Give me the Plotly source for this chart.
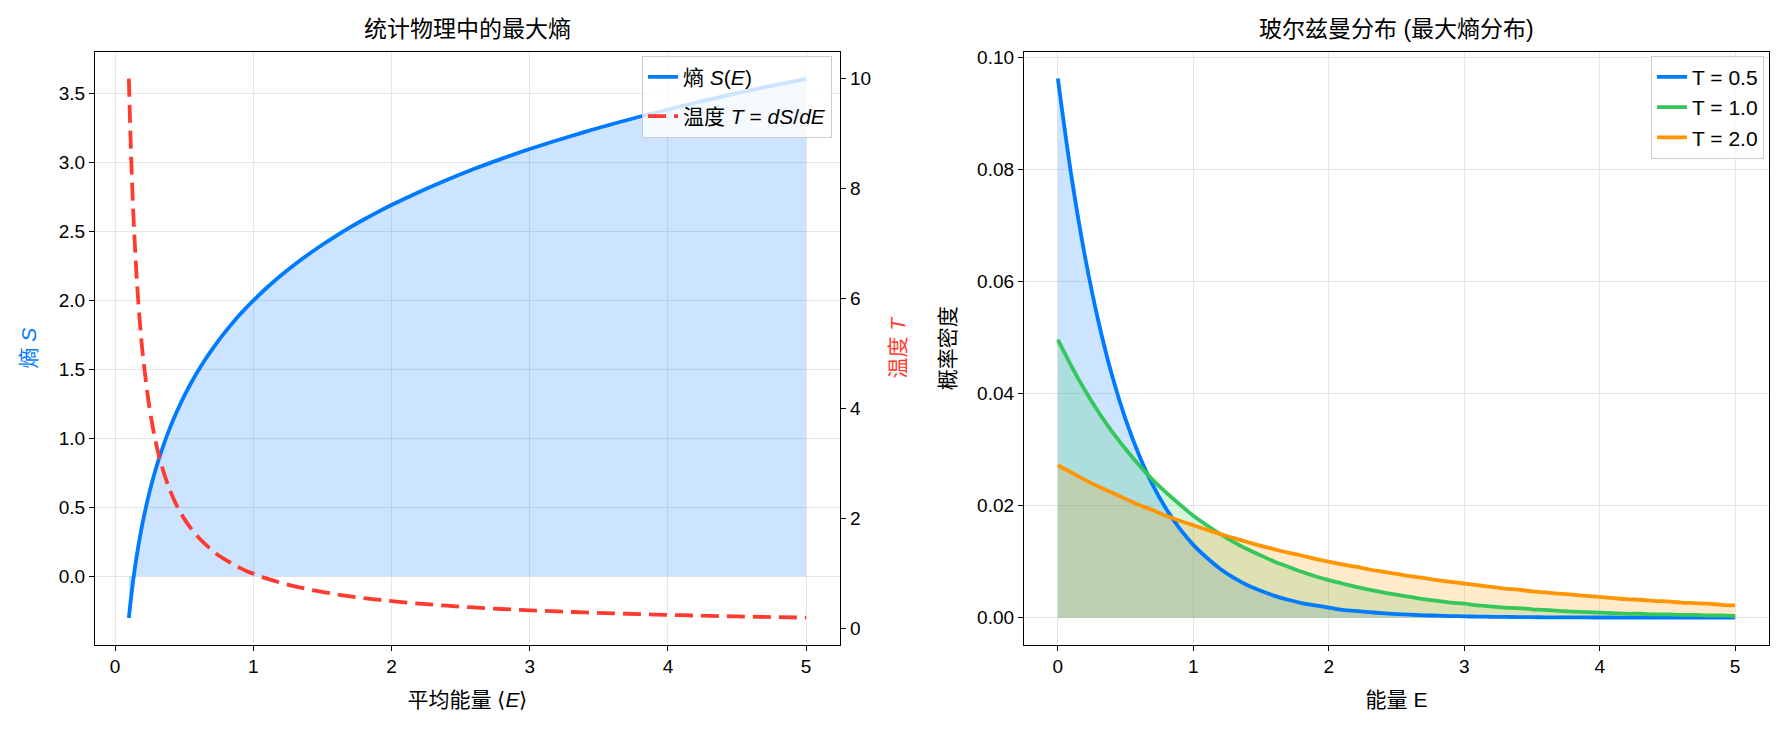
import plotly.graph_objects as go

# ---------- data: left panel ----------
mean_energy = [0.10, 0.11, 0.12, 0.13, 0.14, 0.15, 0.16, 0.17, 0.18, 0.19, 0.20,
               0.25, 0.30, 0.35, 0.40, 0.45, 0.50, 0.55, 0.60, 0.65, 0.70, 0.75, 0.80, 0.85, 0.90, 0.95, 1.00,
               1.1, 1.2, 1.3, 1.4, 1.5, 1.6, 1.7, 1.8, 1.9, 2.0,
               2.2, 2.4, 2.6, 2.8, 3.0, 3.2, 3.4, 3.6, 3.8, 4.0, 4.2, 4.4, 4.6, 4.8, 5.0]
entropy_S = [-0.303, -0.207, -0.120, -0.040, 0.034, 0.103, 0.167, 0.228, 0.285, 0.339, 0.391,
             0.614, 0.796, 0.950, 1.084, 1.201, 1.307, 1.402, 1.489, 1.569, 1.643, 1.712, 1.777, 1.837,
             1.895, 1.949, 2.000,
             2.095, 2.182, 2.262, 2.336, 2.405, 2.470, 2.531, 2.588, 2.642, 2.693,
             2.788, 2.875, 2.956, 3.030, 3.099, 3.163, 3.224, 3.281, 3.335, 3.386, 3.435, 3.482, 3.526,
             3.569, 3.609]
temperature_T = [10.0, 9.09, 8.33, 7.69, 7.14, 6.67, 6.25, 5.88, 5.56, 5.26, 5.00,
                 4.00, 3.33, 2.86, 2.50, 2.22, 2.00, 1.82, 1.67, 1.54, 1.43, 1.33, 1.25, 1.18, 1.11, 1.05, 1.00,
                 0.909, 0.833, 0.769, 0.714, 0.667, 0.625, 0.588, 0.556, 0.526, 0.500,
                 0.455, 0.417, 0.385, 0.357, 0.333, 0.313, 0.294, 0.278, 0.263, 0.250, 0.238, 0.227, 0.217,
                 0.208, 0.200]

# ---------- data: right panel ----------
energy = [i / 10 for i in range(51)]
p_T05 = [0.0962, 0.0788, 0.0645, 0.0528, 0.0432, 0.0354, 0.0290, 0.0237, 0.0194, 0.0159,
         0.0130, 0.0107, 0.0087, 0.0071, 0.0058, 0.0048, 0.0039, 0.0032, 0.0026, 0.0022,
         0.0018, 0.0014, 0.0012, 0.0010, 0.0008, 0.00065, 0.00053, 0.00043, 0.00036, 0.00029,
         0.00024, 0.00019, 0.00016, 0.00013, 0.00011, 0.00009, 0.00007, 0.00006, 0.00005, 0.00004,
         0.00003, 0.00003, 0.00002, 0.00002, 0.00002, 0.00001, 0.00001, 0.00001, 0.00001, 0.00001, 0.0]
p_T10 = [0.0496, 0.0449, 0.0406, 0.0367, 0.0332, 0.0301, 0.0272, 0.0246, 0.0223, 0.0202,
         0.0182, 0.0165, 0.0149, 0.0135, 0.0122, 0.0111, 0.0100, 0.0091, 0.0082, 0.0074,
         0.0067, 0.0061, 0.0055, 0.0050, 0.0045, 0.0041, 0.0037, 0.0033, 0.0030, 0.0027,
         0.0025, 0.0022, 0.0020, 0.0018, 0.0017, 0.0015, 0.0014, 0.0012, 0.0011, 0.0010,
         0.0009, 0.0008, 0.0007, 0.0007, 0.0006, 0.0006, 0.0005, 0.0005, 0.0004, 0.0004, 0.0003]
p_T20 = [0.0272, 0.0259, 0.0246, 0.0234, 0.0223, 0.0212, 0.0201, 0.0192, 0.0182, 0.0173,
         0.0165, 0.0157, 0.0149, 0.0142, 0.0135, 0.0128, 0.0122, 0.0116, 0.0111, 0.0105,
         0.0100, 0.0095, 0.0091, 0.0086, 0.0082, 0.0078, 0.0074, 0.0071, 0.0067, 0.0064,
         0.0061, 0.0058, 0.0055, 0.0052, 0.0050, 0.0047, 0.0045, 0.0043, 0.0041, 0.0039,
         0.0037, 0.0035, 0.0033, 0.0032, 0.0030, 0.0029, 0.0027, 0.0026, 0.0025, 0.0023, 0.0022]
series_names = ["T = 0.5", "T = 1.0", "T = 2.0"]

BLUE = "#007AFF"
RED = "#FF3B30"
GREEN = "#34C759"
ORANGE = "#FF9500"
FONT = "Liberation Sans, Arial, Noto Sans CJK SC, sans-serif"
LW = 3.8

def rgba(hex_color, a):
    h = hex_color.lstrip("#")
    r, g, b = int(h[0:2], 16), int(h[2:4], 16), int(h[4:6], 16)
    return f"rgba({r},{g},{b},{a})"

fig = go.Figure()

# left panel
fig.add_trace(go.Scatter(x=mean_energy, y=entropy_S, mode="lines", line=dict(width=0, shape="spline"),
                         fill="tozeroy", fillcolor=rgba(BLUE, 0.2), showlegend=False, hoverinfo="skip",
                         xaxis="x", yaxis="y"))
fig.add_trace(go.Scatter(x=mean_energy, y=entropy_S, mode="lines", name="熵 <i>S</i>(<i>E</i>)",
                         line=dict(color=BLUE, width=LW, shape="spline"), xaxis="x", yaxis="y",
                         legend="legend", legendgroup="a"))
fig.add_trace(go.Scatter(x=mean_energy, y=temperature_T, mode="lines",
                         name="温度 <i>T</i> = <i>dS</i>/<i>dE</i>",
                         line=dict(color=RED, width=LW, dash="18px,8px", shape="spline"),
                         xaxis="x", yaxis="y2", legend="legend", legendgroup="b"))

# right panel
colors = [BLUE, GREEN, ORANGE]
series = [p_T05, p_T10, p_T20]
for c, s in zip(colors, series):
    fig.add_trace(go.Scatter(x=energy, y=s, mode="lines", line=dict(width=0, shape="spline"),
                             fill="tozeroy", fillcolor=rgba(c, 0.2), showlegend=False,
                             hoverinfo="skip", xaxis="x2", yaxis="y3"))
for i, (c, s, n) in enumerate(zip(colors, series, series_names)):
    fig.add_trace(go.Scatter(x=energy, y=s, mode="lines", name=n,
                             line=dict(color=c, width=LW, shape="spline"),
                             xaxis="x2", yaxis="y3", legend="legend2", legendgroup=f"r{i}"))

ydom = [1 - 644 / 730, 1 - 47 / 730]
xdom1 = [95 / 1783, 840 / 1783]
xdom2 = [1024 / 1783, 1769 / 1783]

TICK = 19
LAB = 21
TITLE = 23
LEG = 21
axis_common = dict(showline=True, linecolor="black", linewidth=1.2, mirror=True, ticks="outside",
                   ticklen=5, tickwidth=1.2, tickcolor="black", zeroline=False,
                   tickfont=dict(size=TICK, color="black", family=FONT))
grid = dict(showgrid=True, gridcolor="rgba(176,176,176,0.3)", gridwidth=1)

fig.update_layout(
    width=1783, height=730,
    margin=dict(l=0, r=0, t=0, b=0),
    paper_bgcolor="white", plot_bgcolor="white",
    font=dict(family=FONT, size=TICK, color="black"),
    xaxis=dict(domain=xdom1, anchor="y", range=[-0.145, 5.245], dtick=1, tick0=0,
               title=dict(text="平均能量 ⟨<i>E</i>⟩", font=dict(size=LAB), standoff=15),
               **axis_common, **grid),
    yaxis=dict(domain=ydom, anchor="x", range=[-0.4955, 3.8055], dtick=0.5, tick0=0, tickformat=".1f",
               title=dict(text="熵 <i>S</i>", font=dict(size=LAB, color=BLUE), standoff=16),
               **axis_common, **grid),
    yaxis2=dict(overlaying="y", anchor="x", side="right", range=[-0.29, 10.49], dtick=2, tick0=0,
                title=dict(text="温度 <i>T</i>", font=dict(size=LAB, color=RED), standoff=20),
                showgrid=False, **{k: v for k, v in axis_common.items() if k != "mirror"}),
    xaxis2=dict(domain=xdom2, anchor="y3", range=[-0.25, 5.25], dtick=1, tick0=0,
                title=dict(text="能量 E", font=dict(size=LAB), standoff=15),
                **axis_common, **grid),
    yaxis3=dict(domain=ydom, anchor="x2", range=[-0.0048, 0.101], dtick=0.02, tick0=0,
                tickformat=".2f",
                title=dict(text="概率密度", font=dict(size=LAB), standoff=15),
                **axis_common, **grid),
    legend=dict(x=832 / 1783, y=1 - 51 / 730, xanchor="right", yanchor="top",
                bgcolor="rgba(255,255,255,0.8)", bordercolor="#cccccc", borderwidth=1,
                font=dict(size=LEG, family=FONT), traceorder="grouped", tracegroupgap=9),
    legend2=dict(x=1764 / 1783, y=1 - 51 / 730, xanchor="right", yanchor="top",
                 bgcolor="rgba(255,255,255,0.8)", bordercolor="#cccccc", borderwidth=1,
                 font=dict(size=LEG, family=FONT), traceorder="grouped", tracegroupgap=0),
    annotations=[
        dict(text="统计物理中的最大熵", x=(xdom1[0] + xdom1[1]) / 2, y=1 - 24 / 730, xref="paper",
             yref="paper", showarrow=False, xanchor="center", yanchor="middle",
             font=dict(size=TITLE, color="black", family=FONT)),
        dict(text="玻尔兹曼分布 (最大熵分布)", x=(xdom2[0] + xdom2[1]) / 2, y=1 - 24 / 730, xref="paper",
             yref="paper", showarrow=False, xanchor="center", yanchor="middle",
             font=dict(size=TITLE, color="black", family=FONT)),
    ],
)

fig.write_html("out.html")
